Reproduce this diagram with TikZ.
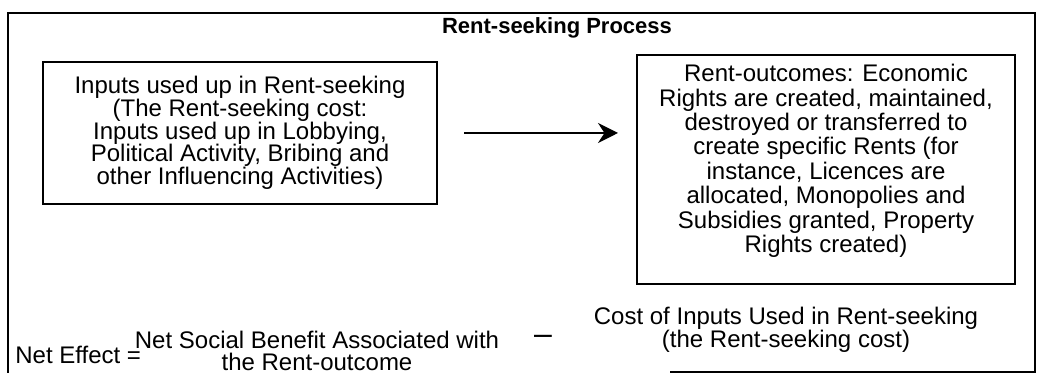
\documentclass[tikz,border=0pt]{standalone}
\usepackage{fontspec}
\setmainfont{Liberation Sans}
\usepackage{tikz}
\usetikzlibrary{calc,arrows.meta,positioning}

\begin{document}
\begin{tikzpicture}[x=0.5pt,y=-0.5pt,font=\fontsize{12}{11.4}\selectfont]

\tikzset{textbox/.style={draw,line width=1pt,align=center,inner sep=0pt},
plaintext/.style={align=center,inner sep=0pt},
flowarrow/.style={line width=1pt,-{Stealth[length=10pt,width=10pt]}}}

\useasboundingbox (0,0) rectangle (1041,373);

% Outer frame (bottom edge only partly shows)
\draw[line width=1pt] (8,373) -- (8,13) -- (1035,13) -- (1035,372) -- (670,372);
\node[plaintext,font=\fontsize{11}{12}\selectfont\bfseries] (title) at (557,28) {Rent-seeking Process};

% Boxes
\node[textbox,minimum width=197pt,minimum height=71pt] (inputs) at (240,133) {Inputs used up in Rent-seeking\\(The Rent-seeking cost:\\Inputs used up in Lobbying,\\Political Activity, Bribing and\\other Influencing Activities)};
\node[textbox,minimum width=189pt,minimum height=114.5pt] (outcomes) at (826,169.5) {};
\node[plaintext,anchor=north,font=\fontsize{12}{12.2}\selectfont] (outcometext) at ([yshift=-5pt]outcomes.north) {Rent-outcomes: Economic\\Rights are created, maintained,\\destroyed or transferred to\\create specific Rents (for\\instance, Licences are\\allocated, Monopolies and\\Subsidies granted, Property\\Rights created)};

% Arrow between the boxes
\draw[flowarrow,shorten <=13pt,shorten >=9pt] (inputs.east) -- (inputs.east -| outcomes.west);

% Net effect line
\node[plaintext,anchor=west] (neteffect) at (15,355) {Net Effect =};
\node[plaintext] (benefit) at (317,351) {Net Social Benefit Associated with\\the Rent-outcome};
\node[plaintext,font=\fontsize{16}{16}\selectfont] (minus) at (543,340) {–};
\node[plaintext] (cost) at (786,330) {Cost of Inputs Used in Rent-seeking\\(the Rent-seeking cost)};

\end{tikzpicture}
\end{document}
